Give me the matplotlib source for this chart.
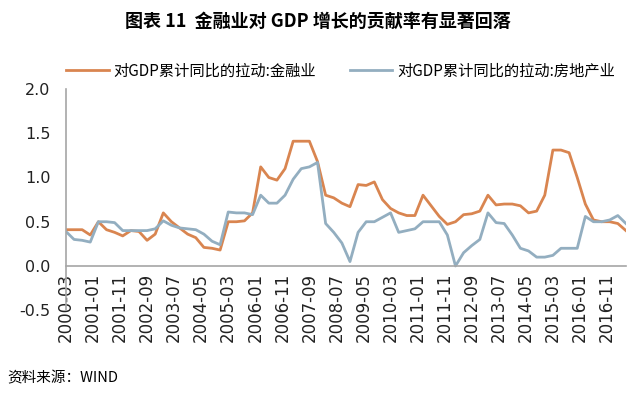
import matplotlib
matplotlib.use("Agg")
import matplotlib.pyplot as plt

plt.rcParams['font.family'] = ['Noto Sans CJK SC', 'DejaVu Sans']

title = "图表 11  金融业对 GDP 增长的贡献率有显著回落"
source = "资料来源：WIND"
series_names = ["对GDP累计同比的拉动:金融业", "对GDP累计同比的拉动:房地产业"]

# quarterly observations 2000-03 .. 2017-06
years = [y for y in range(2000, 2018) for _ in range(4)][:70]
months = [3, 6, 9, 12] * 18
months = months[:70]
dates = [f"{y}-{m:02d}" for y, m in zip(years, months)]

finance = [0.41, 0.41, 0.41, 0.35, 0.50, 0.41, 0.38, 0.34, 0.40, 0.39,
           0.29, 0.36, 0.60, 0.50, 0.43, 0.36, 0.32, 0.21, 0.20, 0.18,
           0.50, 0.50, 0.51, 0.60, 1.12, 1.00, 0.97, 1.10, 1.41, 1.41,
           1.41, 1.18, 0.80, 0.77, 0.71, 0.67, 0.92, 0.91, 0.95, 0.75,
           0.65, 0.60, 0.57, 0.57, 0.80, 0.68, 0.56, 0.47, 0.50, 0.58,
           0.59, 0.62, 0.80, 0.69, 0.70, 0.70, 0.68, 0.60, 0.62, 0.80,
           1.31, 1.31, 1.28, 1.00, 0.70, 0.52, 0.50, 0.50, 0.48, 0.40]

real_estate = [0.39, 0.30, 0.29, 0.27, 0.50, 0.50, 0.49, 0.40, 0.40, 0.40,
               0.40, 0.42, 0.51, 0.46, 0.43, 0.42, 0.41, 0.36, 0.28, 0.24,
               0.61, 0.60, 0.60, 0.58, 0.80, 0.71, 0.71, 0.80, 0.98, 1.10,
               1.12, 1.17, 0.48, 0.38, 0.26, 0.05, 0.38, 0.50, 0.50, 0.55,
               0.60, 0.38, 0.40, 0.42, 0.50, 0.50, 0.50, 0.35, 0.00, 0.15,
               0.23, 0.30, 0.60, 0.49, 0.48, 0.35, 0.20, 0.17, 0.10, 0.10,
               0.12, 0.20, 0.20, 0.20, 0.56, 0.50, 0.50, 0.52, 0.57, 0.48]

tick_labels = ["2000-03", "2001-01", "2001-11", "2002-09", "2003-07", "2004-05",
               "2005-03", "2006-01", "2006-11", "2007-09", "2008-07", "2009-05",
               "2010-03", "2011-01", "2011-11", "2012-09", "2013-07", "2014-05",
               "2015-03", "2016-01", "2016-11"]


def month_index(s):
    y, m = s.split("-")
    return (int(y) - 2000) * 12 + int(m) - 3


x = [month_index(d) for d in dates]
tick_pos = [month_index(t) for t in tick_labels]

fig = plt.figure(figsize=(6.4, 3.95), dpi=100)
ax = fig.add_axes([0.103, 0.2146, 0.875, 0.5601])

for s in ["top", "right"]:
    ax.spines[s].set_visible(False)
ax.spines["bottom"].set_position(("data", 0))
ax.spines["bottom"].set_color("#A6A6A6")
ax.spines["left"].set_color("#A6A6A6")
ax.spines["bottom"].set_linewidth(1.2)
ax.spines["left"].set_linewidth(1.2)

c_fin = "#D98550"
c_re = "#93AEC0"
ax.plot(x, finance, color=c_fin, lw=2.0, label=series_names[0], solid_joinstyle='round')
ax.plot(x, real_estate, color=c_re, lw=2.0, label=series_names[1], solid_joinstyle='round')

yt = [-0.5, 0.0, 0.5, 1.0, 1.5, 2.0]
ax.set_ylim(-0.5, 2.0)
ax.set_xlim(0, x[-1])
ax.set_yticks(yt)
ax.set_yticklabels([f"{v:.1f}" for v in yt])
ax.set_xticks(tick_pos)
ax.set_xticklabels(tick_labels)
ax.tick_params(axis="both", length=0, colors="#222222")
ax.tick_params(axis="y", pad=11, labelsize=11.5)
ax.tick_params(axis="x", pad=5, labelsize=12, labelrotation=90)
for lab in ax.get_xticklabels() + ax.get_yticklabels():
    lab.set_family(["DejaVu Sans"])

fig.text(0.497, 0.945, title, ha="center", va="center", fontsize=13, fontweight="bold")
ax.legend(loc="lower center", bbox_to_anchor=(0.49, 1.0), ncol=2, frameon=False,
          fontsize=11, handlelength=2.8, columnspacing=2.2, handletextpad=0.3,
          borderaxespad=0.2)
fig.text(0.012, 0.043, source, ha="left", va="center", fontsize=10.5)

fig.savefig("out.png", dpi=100, facecolor="white")
